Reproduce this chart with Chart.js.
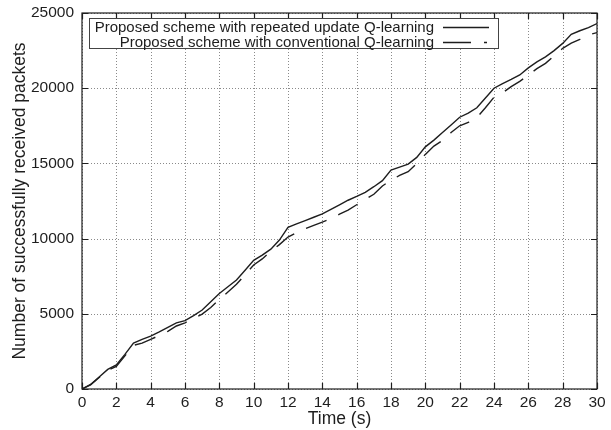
<!DOCTYPE html>
<html>
<head>
<meta charset="utf-8">
<script src="https://cdn.jsdelivr.net/npm/chart.js@4"></script>
<style>
  body { margin: 0; background: #fff; }
  #wrap { width: 611px; height: 430px; }
</style>
</head>
<body>
<div id="wrap"><canvas id="chart" width="611" height="430"></canvas></div>
<script>
// time axis (s)
const times = [0, 0.5, 1, 1.5, 2, 2.5, 3, 3.5, 4, 4.5, 5, 5.5, 6, 6.5, 7, 7.5, 8, 8.5, 9, 9.5,
  10, 10.5, 11, 11.5, 12, 12.5, 13, 13.5, 14, 14.5, 15, 15.5, 16, 16.5, 17, 17.5, 18, 18.5, 19, 19.5,
  20, 20.5, 21, 21.5, 22, 22.5, 23, 23.5, 24, 24.5, 25, 25.5, 26, 26.5, 27, 27.5, 28, 28.5, 29, 29.5, 30];

// packets, repeated update Q-learning (solid)
const repeatedUpdate = [0, 300, 800, 1300, 1600, 2300, 3050, 3300, 3520, 3800, 4100, 4400, 4550, 4880, 5250, 5800,
  6350, 6800, 7250, 7900, 8550, 8900, 9300, 9900, 10750, 10980, 11200, 11420, 11650, 11950, 12250, 12550,
  12800, 13080, 13450, 13850, 14560, 14750, 14950, 15400, 16100, 16550, 17050, 17550, 18070, 18350, 18700,
  19350, 20000, 20300, 20580, 20880, 21350, 21750, 22080, 22500, 22980, 23580, 23820, 24030, 24300];

// packets, conventional Q-learning (dashed)
const conventional = [0, 280, 760, 1250, 1500, 2200, 2900, 3050, 3300, 3560, 3830, 4190, 4400, 4700, 4980, 5420,
  5950, 6450, 6960, 7600, 8250, 8650, 9150, 9600, 10100, 10400, 10650, 10880, 11100, 11320, 11620, 11900,
  12250, 12600, 12950, 13500, 13880, 14200, 14450, 15000, 15600, 16150, 16520, 17050, 17500, 17720, 18050,
  18700, 19400, 19700, 20100, 20450, 20880, 21300, 21650, 22150, 22650, 23000, 23250, 23540, 23700];

const seriesLabels = ["Proposed scheme with repeated update Q-learning", "Proposed scheme with conventional Q-learning"];
const xTicks = [0, 2, 4, 6, 8, 10, 12, 14, 16, 18, 20, 22, 24, 26, 28, 30];
const yTicks = [0, 5000, 10000, 15000, 20000, 25000];

const FONT = "'Liberation Sans', Arial, sans-serif";
const INK = "#1e1e1e";

function toPoints(vals) {
  return times.map((t, i) => ({ x: t, y: vals[i] }));
}

// grid, frame, inward ticks and the boxed key, gnuplot style
const gnuplotLook = {
  id: "gnuplotLook",
  beforeDatasetsDraw(chart) {
    const { ctx, chartArea: a, scales: { x, y } } = chart;
    ctx.save();
    ctx.strokeStyle = "#8a8a8a";
    ctx.lineWidth = 1;
    ctx.setLineDash([1, 2]);
    xTicks.forEach(v => {
      const px = Math.round(x.getPixelForValue(v)) + 0.5;
      ctx.beginPath(); ctx.moveTo(px, a.top); ctx.lineTo(px, a.bottom); ctx.stroke();
    });
    yTicks.forEach(v => {
      const py = Math.round(y.getPixelForValue(v)) + 0.5;
      ctx.beginPath(); ctx.moveTo(a.left, py); ctx.lineTo(a.right, py); ctx.stroke();
    });
    ctx.restore();
  },
  afterDraw(chart) {
    const { ctx, chartArea: a, scales: { x, y } } = chart;
    ctx.save();
    ctx.strokeStyle = INK;
    ctx.lineWidth = 1.2;
    ctx.setLineDash([]);
    ctx.strokeRect(a.left, a.top, a.right - a.left, a.bottom - a.top);
    // inward tick marks, mirrored
    ctx.beginPath();
    xTicks.forEach(v => {
      const px = Math.round(x.getPixelForValue(v)) + 0.5;
      ctx.moveTo(px, a.bottom); ctx.lineTo(px, a.bottom - 6);
      ctx.moveTo(px, a.top); ctx.lineTo(px, a.top + 6);
    });
    yTicks.forEach(v => {
      const py = Math.round(y.getPixelForValue(v)) + 0.5;
      ctx.moveTo(a.left, py); ctx.lineTo(a.left + 6, py);
      ctx.moveTo(a.right, py); ctx.lineTo(a.right - 6, py);
    });
    ctx.stroke();

    // key box
    ctx.fillStyle = "#fff";
    ctx.fillRect(89, 18, 409, 30);
    ctx.lineWidth = 1;
    ctx.strokeStyle = "#444";
    ctx.strokeRect(89.5, 18.5, 409, 30);
    ctx.font = "15px " + FONT;
    ctx.fillStyle = INK;
    ctx.textAlign = "right";
    ctx.textBaseline = "middle";
    const rows = [27, 42];
    chart.data.datasets.forEach((ds, i) => {
      ctx.fillText(ds.label, 434, rows[i] + 1);
      ctx.strokeStyle = INK;
      ctx.lineWidth = 1.4;
      ctx.setLineDash(i === 0 ? [] : [28, 13, 3, 99]);
      ctx.beginPath();
      ctx.moveTo(443, rows[i] + 0.5);
      ctx.lineTo(489, rows[i] + 0.5);
      ctx.stroke();
    });
    ctx.restore();
  }
};

new Chart(document.getElementById("chart"), {
  type: "line",
  data: {
    datasets: [
      {
        label: seriesLabels[0],
        data: toPoints(repeatedUpdate),
        borderColor: INK,
        borderWidth: 1.4,
        pointRadius: 0,
        tension: 0,
      },
      {
        label: seriesLabels[1],
        data: toPoints(conventional),
        borderColor: INK,
        borderWidth: 1.4,
        borderDash: [22, 13],
        pointRadius: 0,
        tension: 0,
      },
    ],
  },
  options: {
    responsive: false,
    animation: false,
    events: [],
    layout: { padding: { top: 13, right: 14, left: 0, bottom: 0 } },
    plugins: { legend: { display: false }, tooltip: { enabled: false } },
    scales: {
      x: {
        type: "linear",
        min: 0,
        max: 30,
        afterBuildTicks: s => { s.ticks = xTicks.map(v => ({ value: v })); },
        afterFit: s => { s.height = 41; s.paddingLeft = 0; s.paddingRight = 0; },
        grid: { display: false, drawTicks: false },
        border: { display: false },
        ticks: { color: INK, font: { family: FONT, size: 15.5 }, padding: 4, maxRotation: 0, autoSkip: false, callback: v => String(v) },
        title: { display: true, text: "Time (s)", color: INK, font: { family: FONT, size: 17.5 }, padding: { top: 0, bottom: 0 } },
      },
      y: {
        min: 0,
        max: 25000,
        afterBuildTicks: s => { s.ticks = yTicks.map(v => ({ value: v })); },
        afterFit: s => { s.width = 82; s.paddingTop = 0; s.paddingBottom = 0; },
        grid: { display: false, drawTicks: false },
        border: { display: false },
        ticks: { color: INK, font: { family: FONT, size: 15.5 }, padding: 8, autoSkip: false, callback: v => String(v) },
        title: { display: true, text: "Number of successfully received packets", color: INK, font: { family: FONT, size: 17.5 }, padding: { top: 10, bottom: 0 } },
      },
    },
  },
  plugins: [gnuplotLook],
});
</script>
</body>
</html>
